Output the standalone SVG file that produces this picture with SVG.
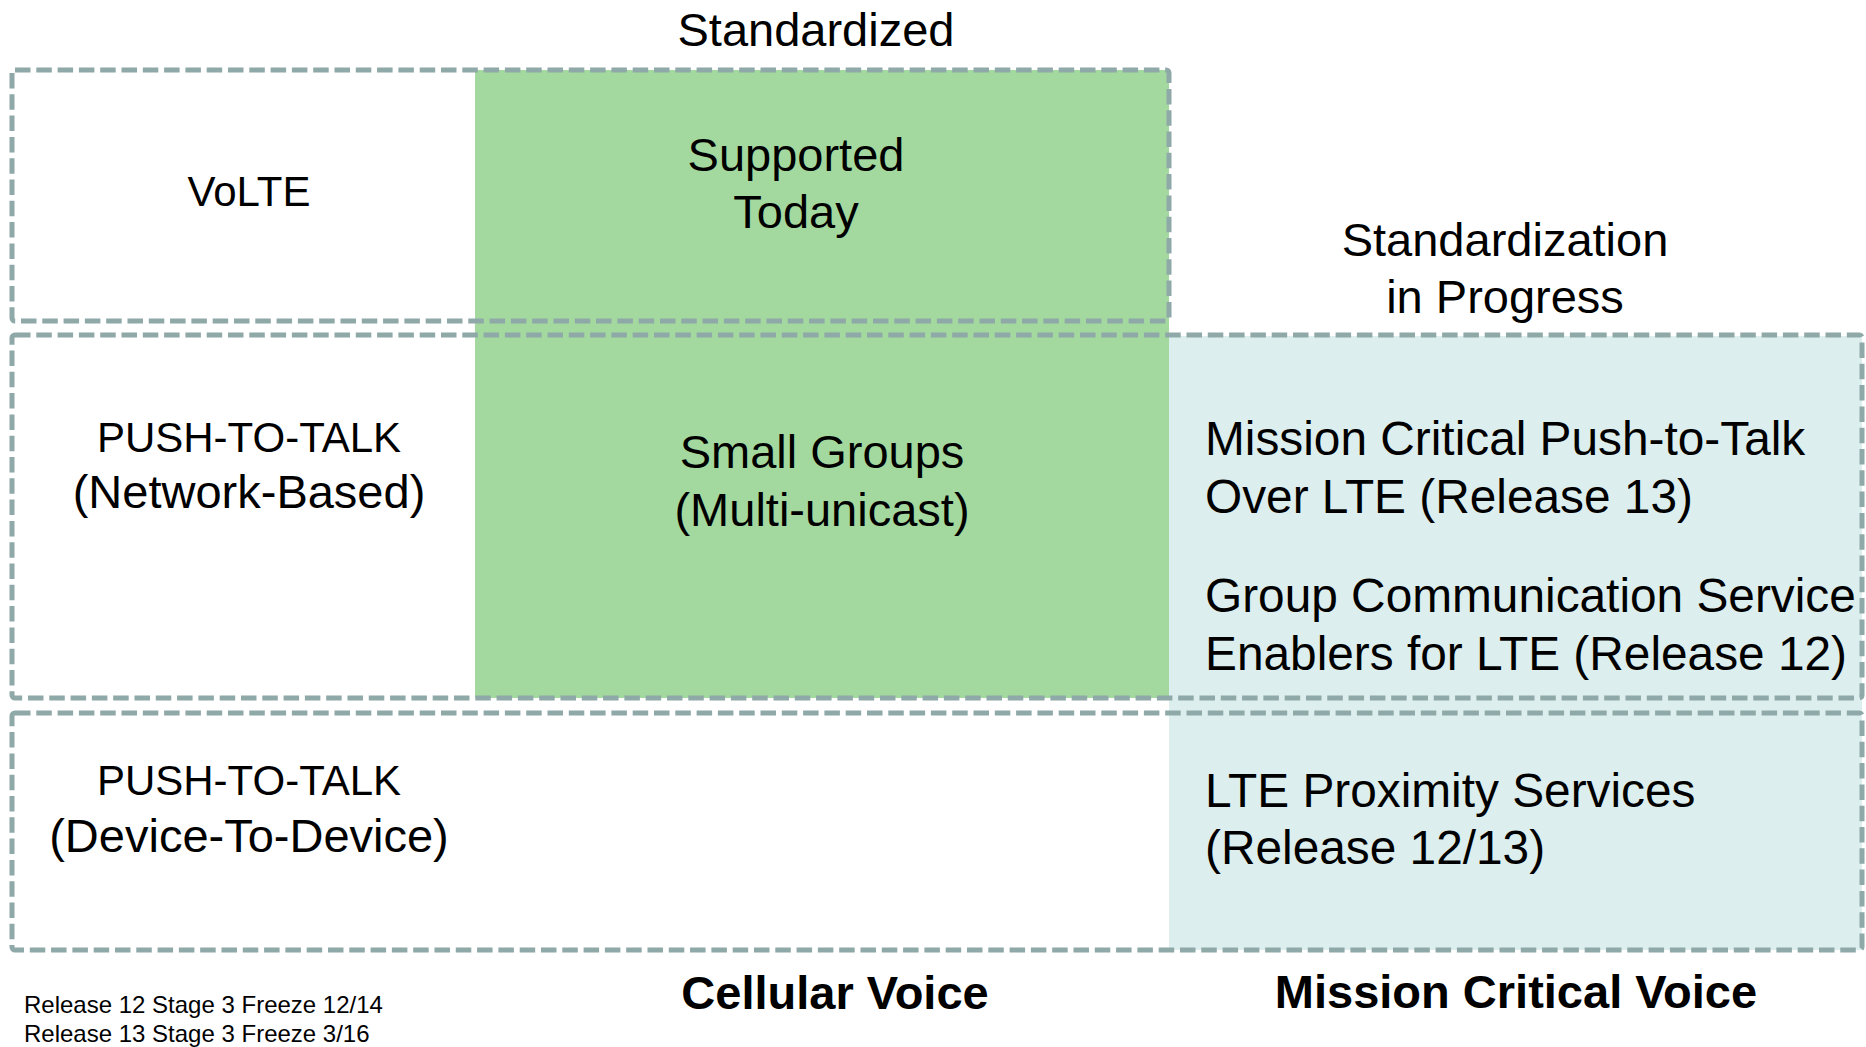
<svg xmlns="http://www.w3.org/2000/svg" width="1866" height="1047" viewBox="0 0 1866 1047">
  <style>
    .t { font-family: "Liberation Sans", Arial, sans-serif; fill: #000; }
    .c { text-anchor: middle; }
    .s47 { font-size: 47px; }
    .s48 { font-size: 47.8px; }
    .s42 { font-size: 42px; }
    .b { font-weight: bold; }
    .box { fill: none; stroke: #8FA8A8; stroke-width: 5; stroke-dasharray: 15.5 5.8; }
    .green { fill: #A3D99E; }
    .blue { fill: #DDEEEE; }
  </style>
  <rect width="1866" height="1047" fill="#fff"/>
  <g id="fills">
    <rect id="fill-standardized" class="green" x="475" y="70" width="694" height="628"/>
    <rect id="fill-progress" class="blue" x="1169" y="336" width="693" height="614"/>
  </g>
  <g id="row-volte">
    <rect class="box" x="12" y="70" width="1157" height="251" rx="3"/>
    <text class="t s42 c" x="249" y="206">VoLTE</text>
  </g>
  <g id="row-ptt-network">
    <rect class="box" x="12" y="335" width="1850" height="363" rx="3"/>
    <text class="t s42 c" x="249" y="452">PUSH-TO-TALK</text>
    <text class="t s47 c" x="249" y="508">(Network-Based)</text>
  </g>
  <g id="row-ptt-device">
    <rect class="box" x="12" y="713" width="1850" height="237" rx="3"/>
    <text class="t s42 c" x="249" y="795">PUSH-TO-TALK</text>
    <text class="t s47 c" x="249" y="852">(Device-To-Device)</text>
  </g>
  <g id="node-supported">
    <text class="t s47 c" x="796" y="171">Supported</text>
    <text class="t s47 c" x="796" y="228">Today</text>
  </g>
  <g id="node-small-groups">
    <text class="t s47 c" x="822" y="468">Small Groups</text>
    <text class="t s47 c" x="822" y="526">(Multi-unicast)</text>
  </g>
  <g id="node-mcptt">
    <text class="t s48" x="1205" y="455">Mission Critical Push-to-Talk</text>
    <text class="t s48" x="1205" y="513">Over LTE (Release 13)</text>
  </g>
  <g id="node-gcse">
    <text class="t s48" x="1205" y="612">Group Communication Service</text>
    <text class="t s48" x="1205" y="670">Enablers for LTE (Release 12)</text>
  </g>
  <g id="node-prose">
    <text class="t s48" x="1205" y="807">LTE Proximity Services</text>
    <text class="t s48" x="1205" y="864">(Release 12/13)</text>
  </g>
  <g id="headers">
    <text class="t s47 c" x="816" y="46">Standardized</text>
    <text class="t s47 c" x="1505" y="256">Standardization</text>
    <text class="t s47 c" x="1505" y="313">in Progress</text>
    <text class="t s47 c b" x="835" y="1009">Cellular Voice</text>
    <text class="t s47 c b" x="1516" y="1008">Mission Critical Voice</text>
  </g>
  <g id="notes">
    <text class="t" font-size="24" x="24" y="1013">Release 12 Stage 3 Freeze 12/14</text>
    <text class="t" font-size="24" x="24" y="1042">Release 13 Stage 3 Freeze 3/16</text>
  </g>
  <g id="connectors"/>
</svg>
